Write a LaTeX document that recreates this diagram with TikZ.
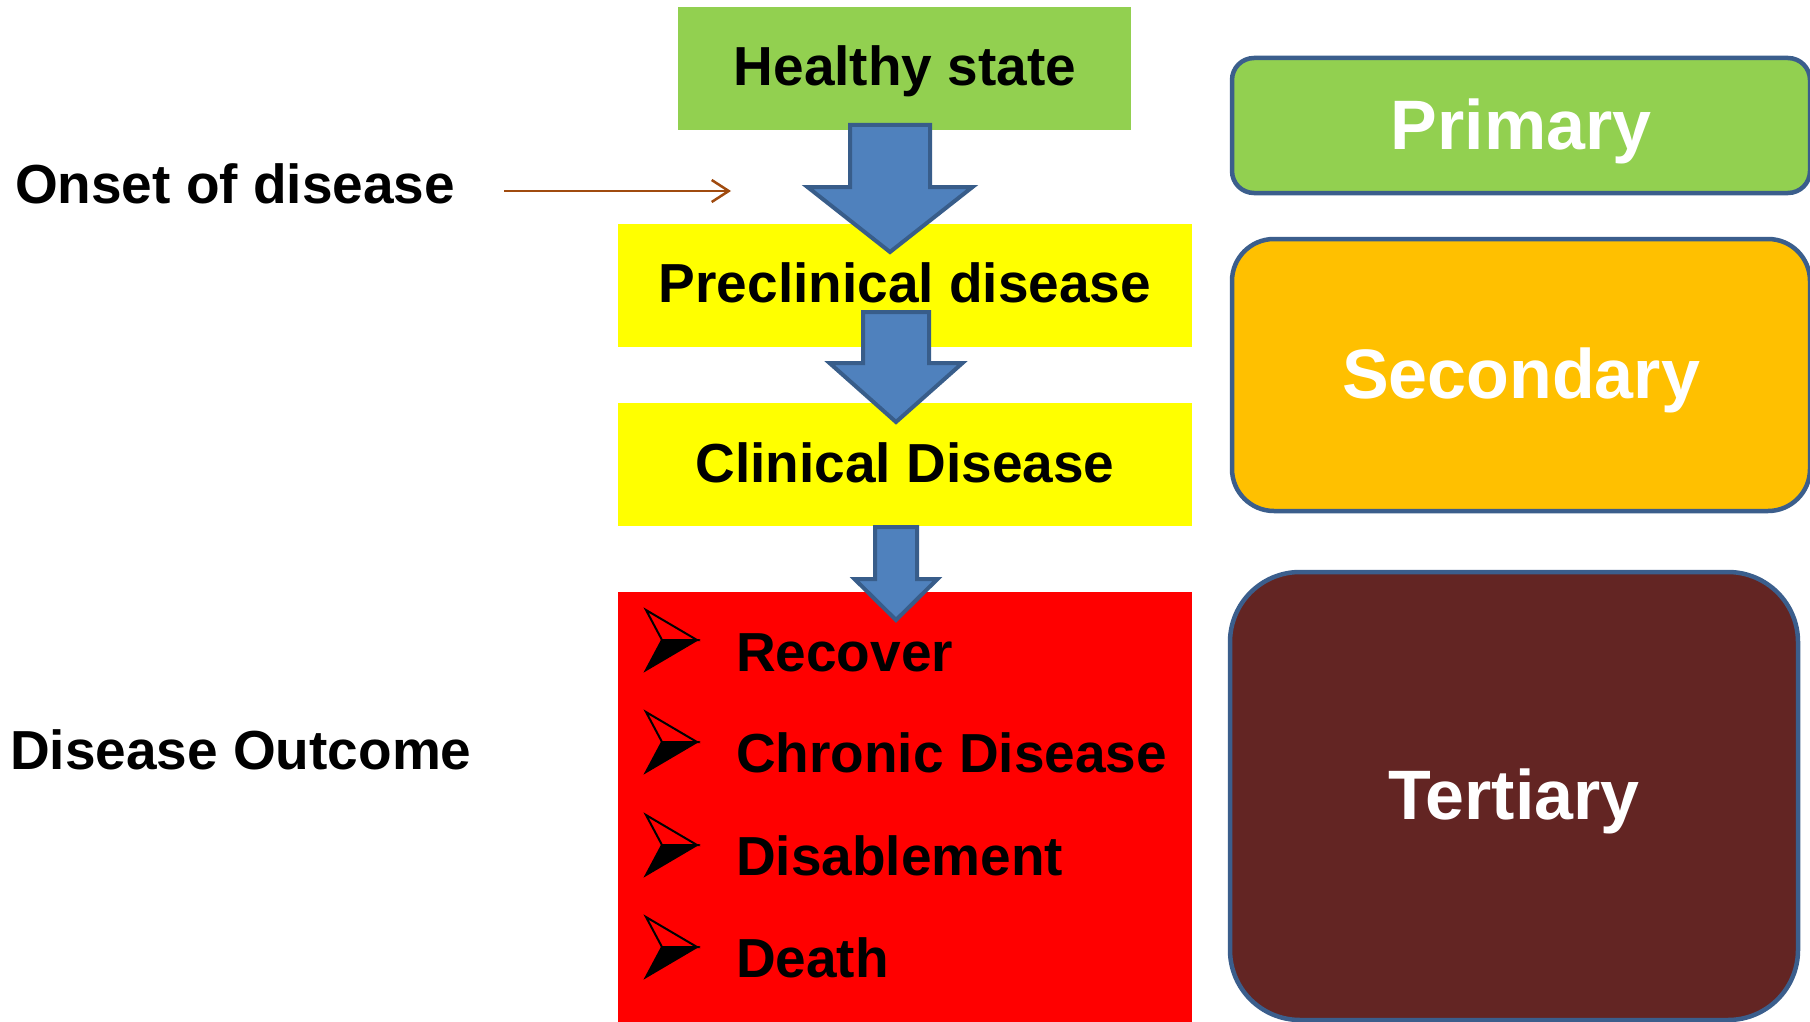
\documentclass[tikz,border=0pt]{standalone}
\usepackage{fontspec}
\setmainfont{Liberation Sans}
\usetikzlibrary{arrows.meta}
\definecolor{cgreen}{RGB}{146,208,80}
\definecolor{cyellow}{RGB}{255,255,0}
\definecolor{cred}{RGB}{255,0,0}
\definecolor{corange}{RGB}{255,192,0}
\definecolor{cmaroon}{RGB}{99,37,35}
\definecolor{cborder}{RGB}{59,94,140}
\definecolor{carrowfill}{RGB}{79,129,189}
\definecolor{carrowline}{RGB}{56,93,138}
\definecolor{cbrown}{RGB}{160,75,15}
\newcommand\blkarrow[6]{% top, cx, shaft half, head y, head half, tip
  \draw[blockarr] ({#2-#3},#1) -- ({#2+#3},#1) -- ({#2+#3},#4) -- ({#2+#5},#4)
    -- (#2,#6) -- ({#2-#5},#4) -- ({#2-#3},#4) -- cycle;}
\newcommand\bulletmark[1]{%
  \draw[line width=2pt, line join=miter] (646,{#1-30}) -- (697,#1) -- (662,#1) -- cycle;
  \fill[black] (662,#1) -- (697,#1) -- (646,{#1+30}) -- cycle;
  \draw[line width=2pt, line join=miter] (662,#1) -- (697,#1) -- (646,{#1+30}) -- cycle;}
\begin{document}
\begin{tikzpicture}[x=1pt,y=-1pt,
  txt/.style={font=\fontsize{55}{60}\selectfont\bfseries, text height=39.4pt, text depth=0pt, inner sep=0pt, outer sep=0pt},
  bigtxt/.style={font=\fontsize{70}{76}\selectfont\bfseries, text height=50.1pt, text depth=3pt, text=white},
  stagebox/.style={minimum width=574pt, minimum height=123pt, inner sep=0pt, outer sep=0pt, anchor=center},
  levelbox/.style={bigtxt, draw=cborder, line width=4.5pt, inner sep=0pt, anchor=center},
  blockarr/.style={fill=carrowfill, draw=carrowline, line width=4pt, line join=miter},
  itemtxt/.style={txt, anchor=west}
]
\useasboundingbox (0,0) rectangle (1810,1022);
\fill[white] (0,0) rectangle (1810,1022);

% left column boxes
\node[stagebox, fill=cgreen, minimum width=453pt] (healthy) at (904.5,68.5) {};
\node[stagebox, fill=cyellow] (precl) at (905,285.5) {};
\node[stagebox, fill=cyellow] (clin) at (905,464.5) {};
\node[stagebox, fill=cred, minimum height=432pt] (outcome) at (905,808) {};

% block arrows
\blkarrow{125}{890}{40}{187}{82.5}{252}
\blkarrow{312}{896}{33}{363}{66.5}{422}
\blkarrow{527}{896}{21}{579}{41.5}{620}

% stage labels
\node[txt] (healthyT) at (905,66) {Healthy state};
\node[txt] (preclT) at (905,282.5) {Preclinical disease};
\node[txt] (clinT) at (905,463) {Clinical Disease};

% outcomes
\bulletmark{640}
\bulletmark{742}
\bulletmark{845}
\bulletmark{947}
\node[itemtxt] (rec) at (736,652) {Recover};
\node[itemtxt] (chr) at (736,753) {Chronic Disease};
\node[itemtxt] (dis) at (736,856) {Disablement};
\node[itemtxt] (dea) at (736,958) {Death};

% left labels
\node[txt, anchor=west] (onset) at (15,184) {Onset of disease};
\node[txt, anchor=west] (dout) at (10,750) {Disease Outcome};
\coordinate (onsetA) at (504,191);
\coordinate (onsetB) at (731,191);
\draw[cbrown, line width=2.5pt, -{Straight Barb[length=17pt,width=22pt,line width=2.5pt]}] (onsetA) -- (onsetB);

% prevention levels
\node[levelbox, fill=cgreen, rounded corners=22pt, minimum width=578pt, minimum height=135pt] (prim) at (1521,125.5) {Primary};
\node[levelbox, fill=corange, rounded corners=42pt, minimum width=578pt, minimum height=272pt] (sec) at (1521,375) {Secondary};
\node[levelbox, fill=cmaroon, rounded corners=70pt, minimum width=568pt, minimum height=448pt] (ter) at (1514,796) {Tertiary};
\end{tikzpicture}
\end{document}
